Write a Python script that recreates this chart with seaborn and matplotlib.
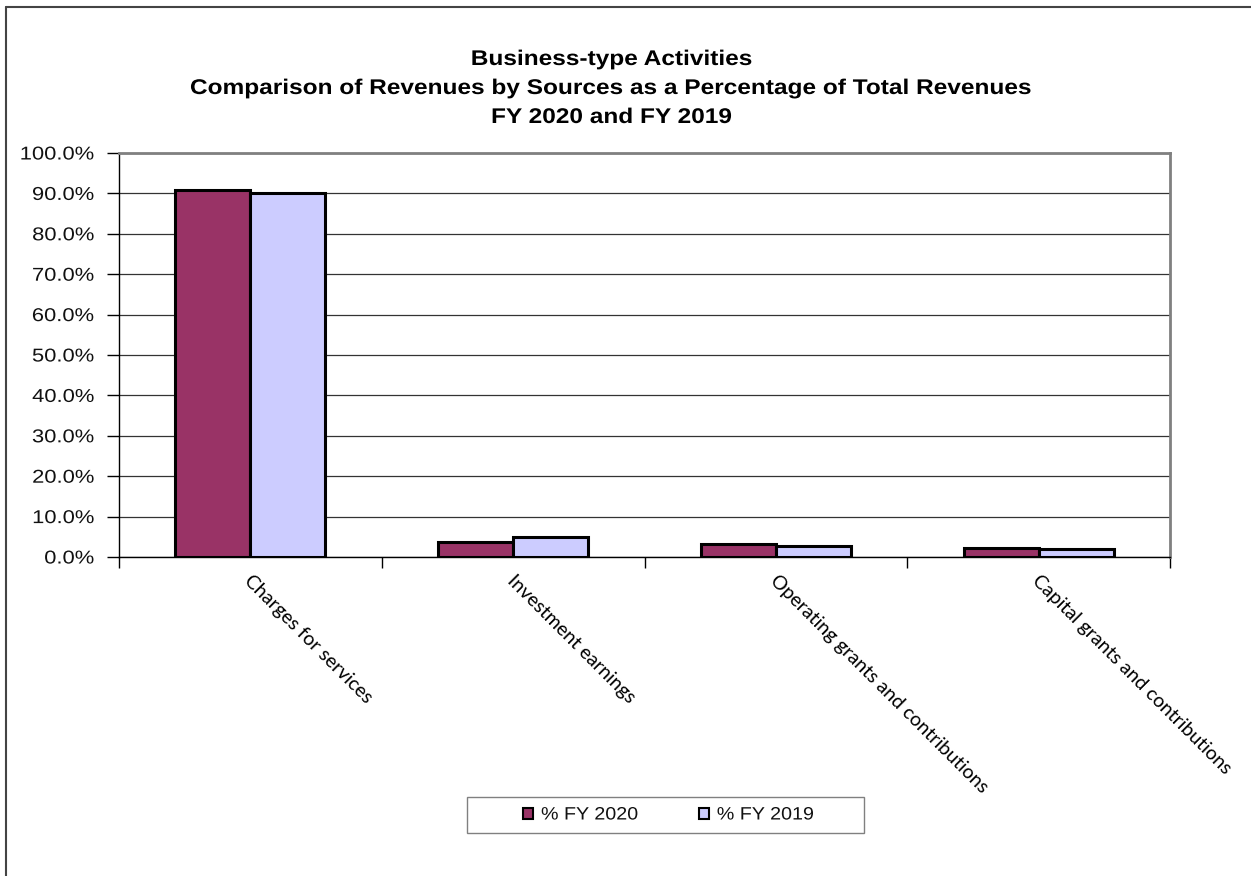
import matplotlib
matplotlib.use("Agg")
import matplotlib.pyplot as plt
from matplotlib.lines import Line2D
from matplotlib.patches import Patch, Rectangle
from matplotlib.patheffects import AbstractPathEffect
from matplotlib.transforms import Affine2D
from matplotlib.ticker import PercentFormatter, FixedLocator
import seaborn as sns
import pandas as pd

categories = ["Charges for services", "Investment earnings",
              "Operating grants and contributions", "Capital grants and contributions"]
fy2020 = [90.8, 3.8, 3.3, 2.3]
fy2019 = [90.1, 4.9, 2.8, 2.1]
series_names = ["% FY 2020", "% FY 2019"]
colors = ["#993366", "#CCCCFF"]
title_lines = ["Business-type Activities",
               "Comparison of Revenues by Sources as a Percentage of Total Revenues",
               "FY 2020 and FY 2019"]

df = pd.DataFrame({
    "category": categories * 2,
    "value": fy2020 + fy2019,
    "series": [series_names[0]] * 4 + [series_names[1]] * 4,
})

W, H = 1251, 876

sns.set_theme(style="white")
plt.rcParams["font.family"] = ["Liberation Sans", "DejaVu Sans"]


class HStretch(AbstractPathEffect):
    """Widen glyphs horizontally about the owning text's anchor point."""

    def __init__(self, text, sx):
        super().__init__()
        self.text = text
        self.sx = sx

    def draw_path(self, renderer, gc, tpath, affine, rgbFace=None):
        x0 = self.text.get_transform().transform(self.text.get_position())[0]
        aff = affine + Affine2D().translate(-x0, 0).scale(self.sx, 1).translate(x0, 0)
        renderer.draw_path(gc, tpath, aff, rgbFace)


def stretch(text, sx):
    text.set_path_effects([HStretch(text, sx)])


fig = plt.figure(figsize=(W / 100, H / 100), dpi=100)
ax = fig.add_axes([119 / W, 1 - 557 / H, (1170 - 119) / W, (557 - 153) / H])

sns.barplot(data=df, x="category", y="value", hue="series", palette=colors,
            saturation=1, width=0.571, dodge=True, gap=0, edgecolor="black",
            linewidth=2.2, legend=False, ax=ax, zorder=3)

ax.set_xlim(-0.5, len(categories) - 0.5)
ax.set_ylim(0, 100)
ax.yaxis.set_major_locator(FixedLocator(range(0, 101, 10)))
ax.yaxis.set_major_formatter(PercentFormatter(decimals=1))
ax.grid(axis="y", color="#333333", linewidth=0.9, zorder=0)
ax.set_xlabel("")
ax.set_ylabel("")

for side in ["top", "right"]:
    ax.spines[side].set_color("#808080")
    ax.spines[side].set_linewidth(2)
for side in ["left", "bottom"]:
    ax.spines[side].set_color("black")
    ax.spines[side].set_linewidth(1)

ax.tick_params(axis="y", which="major", left=True, length=9, width=1, color="black",
               labelsize=13.4, pad=12 * 0.72, direction="out", labelcolor="#111111")
for tick in ax.yaxis.get_major_ticks():
    stretch(tick.label1, 1.18)

ax.set_xticks([])
ax.tick_params(axis="x", which="minor", bottom=True, length=8, width=1, color="black",
               direction="out")
ax.set_xticks([i - 0.5 for i in range(len(categories) + 1)], minor=True)

for i, cat in enumerate(categories):
    ax.annotate(cat, xy=(i, 0), xycoords="data", xytext=(2, -11),
                textcoords="offset points", rotation=-45, rotation_mode="anchor",
                ha="left", va="top", fontsize=14, color="black",
                family=["Lato", "DejaVu Sans"])

for line, base_y in zip(title_lines, [65, 94, 123]):
    t = fig.text(612 / W, 1 - base_y / H, line, ha="center", va="baseline",
                 fontsize=15.3, fontweight="bold", color="black")
    stretch(t, 1.15)

# legend entries without frame, boxed separately
handles = [Patch(facecolor=c, edgecolor="black", linewidth=1.5) for c in colors]
leg = fig.legend(handles, series_names, loc="center", ncol=2,
                 bbox_to_anchor=(664 / W, 1 - 815 / H), fontsize=12.9,
                 frameon=False, handlelength=0.58, handleheight=0.58,
                 handletextpad=0.42, columnspacing=3.9, borderpad=0, borderaxespad=0)
for t in leg.get_texts():
    t.set_color("#111111")
    stretch(t, 1.1)
fig.add_artist(Rectangle((467 / W, 1 - 833 / H), (864 - 467) / W, (833 - 797) / H,
                         transform=fig.transFigure, facecolor="none",
                         edgecolor="#808080", linewidth=1))

fig.add_artist(Line2D([6 / W, 6 / W], [0, 1 - 7 / H], color="#444444", linewidth=1.5))
fig.add_artist(Line2D([6 / W, 1], [1 - 7 / H, 1 - 7 / H], color="#444444", linewidth=1.5))

fig.savefig("out.png", dpi=100, facecolor="white")
